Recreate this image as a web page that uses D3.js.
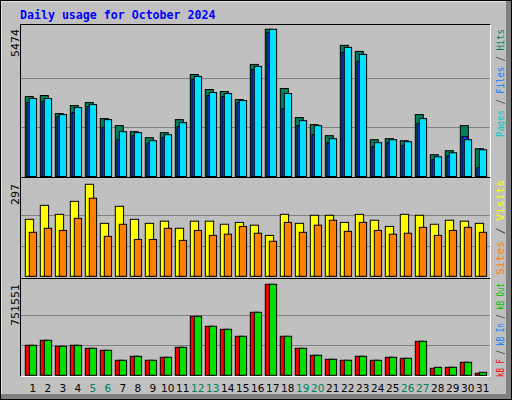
<!DOCTYPE html>
<html><head><meta charset="utf-8">
<script src="https://cdn.jsdelivr.net/npm/d3@7"></script>
<style>body{margin:0;background:#fff}</style></head><body>
<script>
const days = d3.range(1,32);
const weekends = [5,6,12,13,19,20,26,27];
const hits  = [2973,3011,2339,2637,2749,2152,1891,1667,1443,1630,2115,3794,3235,3160,2861,4168,5474,3272,2190,1928,1518,4877,4653,1368,1406,1331,2302,809,958,1891,1033];
const files = [2899,2899,2302,2563,2675,2115,1667,1630,1331,1555,2003,3720,3123,3085,2824,4093,5474,3085,2078,1891,1406,4802,4541,1257,1368,1294,2152,734,883,1368,995];
const pages = [2749,2787,2227,2376,2600,1816,1368,1518,1219,1443,1854,3608,3011,2973,2749,3981,5362,2525,1891,1555,1257,4615,4280,1107,1257,1145,1966,622,771,1480,323];
const visits= [184,229,200,242,297,171,226,184,171,178,155,178,178,168,174,165,132,200,171,197,197,174,200,181,161,200,197,168,181,178,171];
const sites = [142,155,148,187,252,129,168,119,119,155,116,148,132,136,161,139,113,174,142,165,181,145,174,148,136,139,158,132,148,158,142];
const kbOut = [247770,289065,239511,247770,222993,206475,123885,156921,123885,148662,231252,487281,404691,379914,322101,520317,751551,322101,222993,165180,132144,123885,156921,123885,148662,140403,280806,66072,66072,107367,24777];
const kbF   = [247770,289065,239511,247770,222993,206475,123885,156921,123885,148662,231252,487281,404691,379914,322101,520317,751551,322101,222993,165180,132144,123885,156921,123885,148662,140403,280806,57813,66072,107367,16518];
const maxTop=5474, maxMid=297, maxBot=751551;

const W=512,H=400;
const svg=d3.select("body").append("svg").attr("width",W).attr("height",H);
svg.append("rect").attr("x",0).attr("y",0).attr("width",W).attr("height",H).attr("fill","#c0c0c0");
svg.append("rect").attr("x",W-6).attr("y",0).attr("width",6).attr("height",H).attr("fill","#808080");
svg.append("rect").attr("x",0).attr("y",H-6).attr("width",W).attr("height",6).attr("fill","#808080");
svg.append("path").attr("d",`M1,${H-6}V1H${W-6}`).attr("stroke","#fff").attr("fill","none");
svg.append("rect").attr("x",0.5).attr("y",0.5).attr("width",W-1).attr("height",H-1).attr("fill","none").attr("stroke","#000");

svg.append("text").attr("x",20).attr("y",19).text("Daily usage for October 2024")
  .attr("font-family","DejaVu Sans Mono").attr("font-weight","bold").attr("font-size",11.6).attr("fill","#0000ff");

const x=d3.scaleLinear().domain([1,31]).range([25.3,475.3]);
const L=20.5,R=490.5;
const panels=[
  {y0:24.5,y1:177.5,top:29.3,base:176.5,max:maxTop},
  {y0:177.5,y1:278.5,top:184.3,base:276.3,max:maxMid},
  {y0:278.5,y1:376.5,top:284.3,base:375.3,max:maxBot}];
panels.forEach(p=>{
  p.y=d3.scaleLinear().domain([0,p.max]).range([p.base,p.top]);
  [1/3,2/3].forEach(f=>{
    const gy=Math.round(p.y(p.max*f))+0.5;
    svg.append("line").attr("x1",L).attr("x2",R).attr("y1",gy).attr("y2",gy).attr("stroke","#808080");
  });
  svg.append("path").attr("d",`M${L},${p.y1}V${p.y0}H${R}`).attr("stroke","#000").attr("fill","none");
  svg.append("path").attr("d",`M${L},${p.y1}H${R}V${p.y0}`).attr("stroke","#fff").attr("fill","none");
});

function bars(p,data,dx,w,color){
  svg.append("g").selectAll("rect").data(data).join("rect")
    .attr("x",(d,i)=>x(days[i])+dx).attr("width",w)
    .attr("y",d=>p.y(d)).attr("height",d=>p.base-p.y(d))
    .attr("fill",color).attr("stroke","#000").attr("stroke-width",1);
}
bars(panels[0],hits,0,8,"#00805c");
bars(panels[0],pages,1.7,6,"#0040ff");
bars(panels[0],files,4,7.3,"#00e0ff");
bars(panels[1],visits,0,8.3,"#ffff00");
bars(panels[1],sites,4,7.3,"#ff8000");
bars(panels[2],kbF,0,8,"#ff0000");
bars(panels[2],kbOut,4,7.3,"#00e000");

[[maxTop,29],[maxMid,184],[maxBot,284]].forEach(([v,yy])=>{
  svg.append("text").attr("transform",`translate(19,${yy}) rotate(-90)`).attr("text-anchor","end")
   .attr("font-family","DejaVu Sans").attr("font-size",11).attr("fill","#000").text(v);
});
function legend(yy,len,parts){
  const t=svg.append("text").attr("transform",`translate(504,${yy}) rotate(-90)`).attr("text-anchor","end")
   .attr("font-family","DejaVu Sans Mono").attr("font-size",10)
   .attr("textLength",len).attr("lengthAdjust","spacingAndGlyphs");
  parts.forEach(([s,c])=>t.append("tspan").attr("fill",c).text(s));
}
legend(29,108,[["Pages","#00c8c8"],[" / ","#404040"],["Files","#0080ff"],[" / ","#404040"],["Hits","#00805c"]]);
legend(180,95,[["Sites","#ff8000"],[" / ","#404040"],["Visits","#ffff00"]]);
legend(283,94,[["kB F","#ff0000"],[" / ","#404040"],["kB In","#0080ff"],[" / ","#404040"],["kB Out","#00c000"]]);

svg.append("g").selectAll("text").data(days).join("text")
  .attr("x",d=>x(d)+7.5).attr("y",392).attr("text-anchor","middle")
  .attr("font-family","DejaVu Sans").attr("font-size",10.5)
  .attr("fill",d=>weekends.includes(d)?"#00805c":"#000").text(d=>d);
</script></body></html>
